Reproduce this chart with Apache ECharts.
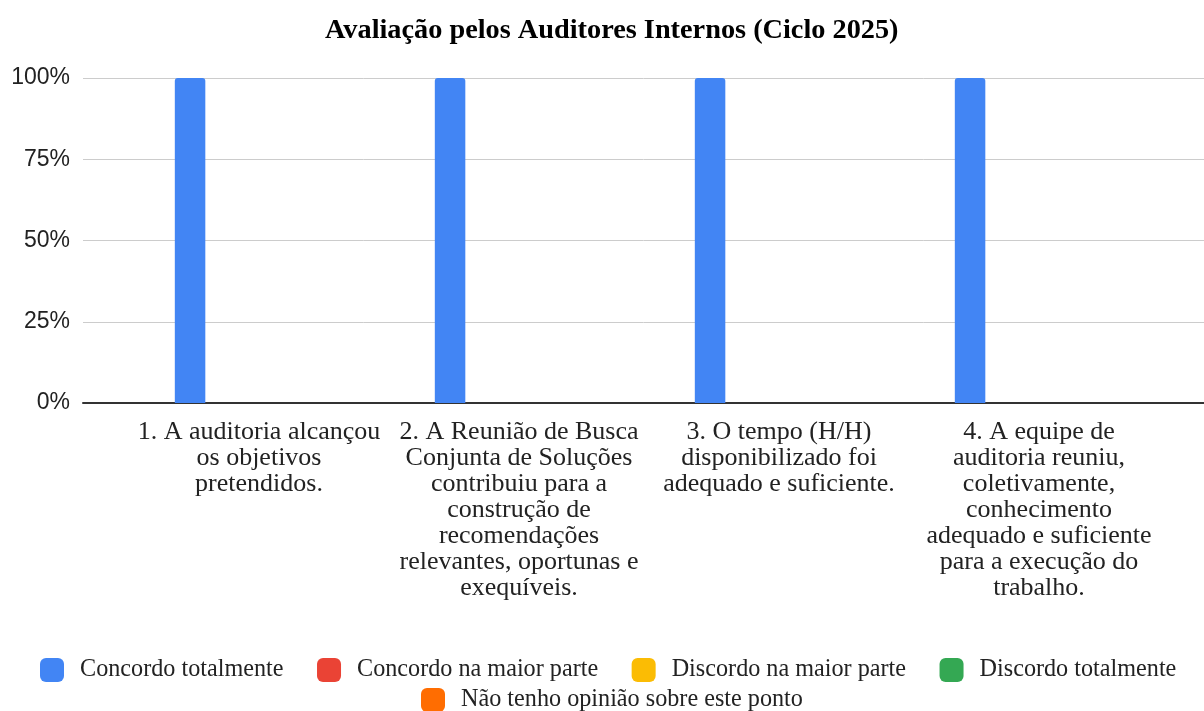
<!DOCTYPE html>
<html>
<head>
<meta charset="utf-8">
<script src="https://cdn.jsdelivr.net/npm/echarts@6/dist/echarts.min.js"></script>
<style>
html,body{margin:0;padding:0;background:#fff;}
#chart{width:1204px;height:711px;}
</style>
</head>
<body>
<div id="chart"></div>
<script>
const titleText = 'Avaliação pelos Auditores Internos (Ciclo 2025)';
const categories = [
  '1. A auditoria alcançou\nos objetivos\npretendidos.',
  '2. A Reunião de Busca\nConjunta de Soluções\ncontribuiu para a\nconstrução de\nrecomendações\nrelevantes, oportunas e\nexequíveis.',
  '3. O tempo (H/H)\ndisponibilizado foi\nadequado e suficiente.',
  '4. A equipe de\nauditoria reuniu,\ncoletivamente,\nconhecimento\nadequado e suficiente\npara a execução do\ntrabalho.'
];
const seriesNames = ['Concordo totalmente', 'Concordo na maior parte', 'Discordo na maior parte', 'Discordo totalmente', 'Não tenho opinião sobre este ponto'];
const concordoTotalmente = [100, 100, 100, 100];
const concordoMaiorParte = [0, 0, 0, 0];
const discordoMaiorParte = [0, 0, 0, 0];
const discordoTotalmente = [0, 0, 0, 0];
const semOpiniao = [0, 0, 0, 0];
const yTicks = [0, 25, 50, 75, 100];
const colors = ['#4285F4', '#EA4335', '#FBBC04', '#34A853', '#FF6D01'];

const values = [concordoTotalmente, concordoMaiorParte, discordoMaiorParte, discordoTotalmente, semOpiniao];
const serif = '"Liberation Serif", "Times New Roman", serif';
const sans = '"Liberation Sans", Arial, sans-serif';

const chart = echarts.init(document.getElementById('chart'));
chart.setOption({
  animation: false,
  backgroundColor: '#fff',
  color: colors,
  title: {
    text: titleText,
    left: 325,
    top: 17,
    padding: 0,
    textStyle: {fontFamily: serif, fontWeight: 'bold', fontSize: 28.3, color: '#000'}
  },
  legend: [
    {
      data: seriesNames.slice(0, 4),
      left: 40, top: 658, padding: 0,
      itemWidth: 24, itemHeight: 24, itemGap: 33.5,
      icon: 'roundRect',
      textStyle: {fontFamily: serif, fontSize: 24.2, color: '#222', padding: [0, 0, 0, 11]}
    },
    {
      data: seriesNames.slice(4),
      left: 421, top: 688, padding: 0,
      itemWidth: 24, itemHeight: 24, itemGap: 33.5,
      icon: 'roundRect',
      textStyle: {fontFamily: serif, fontSize: 24.2, color: '#222', padding: [0, 0, 0, 11]}
    }
  ],
  grid: [
    {left: 83, right: 0, top: 78, bottom: 308},
    {left: 129, right: 35, top: 78, bottom: 308}
  ],
  xAxis: [
    {
      type: 'value', gridIndex: 0, min: 0, max: 1,
      axisLine: {show: true, lineStyle: {color: '#333', width: 2}},
      axisTick: {show: false}, axisLabel: {show: false}, splitLine: {show: false}
    },
    {
      type: 'category', gridIndex: 1, data: categories,
      axisLine: {show: false}, axisTick: {show: false},
      axisLabel: {
        interval: 0, margin: 16,
        fontFamily: serif, fontSize: 26, lineHeight: 26, color: '#222', align: 'center'
      }
    }
  ],
  yAxis: [
    {
      type: 'value', gridIndex: 0, min: 0, max: 100, interval: 25,
      axisLine: {show: false}, axisTick: {show: false},
      axisLabel: {formatter: '{value}%', margin: 13, fontFamily: sans, fontSize: 23, color: '#222', padding: [6, 0, 0, 0]},
      splitLine: {lineStyle: {color: '#cccccc', width: 1}}
    },
    {
      type: 'value', gridIndex: 1, min: 0, max: 100, interval: 25, show: false,
      splitLine: {show: false}
    }
  ],
  series: seriesNames.map((name, i) => ({
    name: name,
    type: 'bar',
    xAxisIndex: 1, yAxisIndex: 1,
    data: values[i],
    barWidth: 30.5,
    barGap: '13%',
    itemStyle: {color: colors[i], borderRadius: [3, 3, 0, 0]},
    z: 3
  }))
});
</script>
</body>
</html>
